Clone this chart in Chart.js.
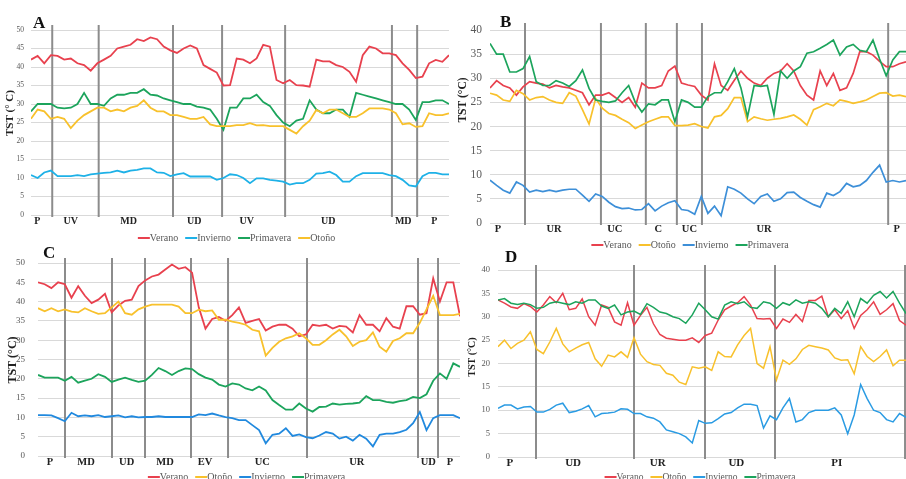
<!DOCTYPE html>
<html>
<head>
<meta charset="utf-8">
<script src="https://cdn.jsdelivr.net/npm/chart.js@4.4.1/dist/chart.umd.min.js"></script>
<style>
  html, body { margin: 0; padding: 0; background: #fff; width: 906px; height: 479px; overflow: hidden; }
  .panel { position: absolute; }
</style>
</head>
<body>
<div class="panel" style="left:0;top:0;width:455px;height:250px"><canvas id="chartA"></canvas></div>
<div class="panel" style="left:455px;top:0;width:451px;height:252px"><canvas id="chartB"></canvas></div>
<div class="panel" style="left:0;top:244px;width:465px;height:235px"><canvas id="chartC"></canvas></div>
<div class="panel" style="left:465px;top:244px;width:441px;height:235px"><canvas id="chartD"></canvas></div>
<script>
// Daily TST readings along each transect, 64 samples per series.

// ---- Panel A ----
const aVerano = [42, 43, 41, 43.2, 43, 42, 42.3, 41, 40.5, 39, 41, 42, 43, 45, 45.5, 46, 47.5, 47, 48, 47.5, 45.5, 44.5, 43.8, 45, 45.8, 45, 40.5, 39.5, 38.5, 35,
  35.1, 42.3, 42, 41, 42.3, 46, 45.5, 36.5, 35.6, 36.5, 35.1, 35, 34.7, 42, 41.5, 41.5, 40.5, 40, 38.7, 36, 43.2, 45.5, 45, 43.7, 43.7, 43.2, 41, 39.2, 37, 37.4, 41, 41.9, 41.4, 43.2];
const aInvierno = [10.8, 10, 11.5, 12, 10.5, 10.5, 10.5, 10.8, 10.5, 11, 11.2, 11.4, 11.5, 12, 11.5, 12, 12.2, 12.6, 12.6, 11.5, 11.4, 10.5, 11, 11.3, 10.4, 10.4, 10.4, 10.4, 9.5, 10,
  11, 10.8, 10, 8.6, 9.9, 9.9, 9.5, 9.3, 9, 8.2, 8.6, 8.6, 9.5, 11.2, 11.3, 11.7, 10.8, 9, 9, 10.5, 11.3, 11.3, 11.3, 11.3, 10.8, 10.5, 9.5, 8, 7.7, 10.5, 11.4, 11.4, 11, 11];
const aPrimavera = [28, 30, 30, 30, 29, 28.8, 29, 30, 33, 30, 30, 29.5, 31.5, 32.5, 32.5, 33, 33, 34, 32.5, 32.3, 31.5, 31, 30.5, 30, 30, 29.3, 29, 28.5, 26, 23,
  29, 29, 31.5, 31.5, 32.5, 30.5, 29.5, 27, 25, 24, 25.5, 26, 31, 28.5, 27.5, 27.5, 28.5, 28.5, 26.5, 33, 32.5, 32, 31.5, 31, 30.5, 30, 30, 28.5, 25.7, 30.5, 30.5, 31, 31, 30];
const aOtono = [26, 28.5, 28, 26, 26.5, 26, 23.5, 25.5, 27, 28, 29, 29, 28, 28.5, 28, 29, 29.5, 31, 29, 28, 28, 27, 27, 26.5, 26, 26, 26.5, 24.5, 24, 24,
  24, 24.3, 24.3, 24.8, 24.2, 24.3, 24, 24, 24, 23, 22, 24, 25.5, 28.4, 27.5, 28.5, 28.5, 27.5, 26.5, 26.5, 27.5, 28.8, 28.8, 28.8, 28.5, 27.5, 24.5, 24.8, 23.8, 24, 27.5, 27, 27, 27.5];
const aSeps = [3.2, 10.2, 21.4, 28.8, 38.3, 54.4, 58.2];
const aZones = ['P', 'UV', 'MD', 'UD', 'UV', 'UD', 'MD', 'P'];
const aZonePos = [0.95, 6.0, 14.7, 24.6, 32.5, 44.8, 56.1, 60.8];

// ---- Panel B ----
const bVerano = [28, 29.5, 28.5, 28, 26.5, 28.2, 29.3, 29, 28.8, 28, 28.5, 28.2, 28, 27.5, 27, 24.5, 26.5, 26.5, 27, 26, 25, 26, 24, 29, 28, 28, 28.5, 31.5, 32.5, 29,
  28.6, 28.3, 26.5, 25.5, 33, 28.5, 27.5, 29.6, 31.5, 30, 29, 28.5, 30, 31, 31.5, 33, 31.5, 28.5, 26.5, 25.5, 31.5, 28.5, 31, 27.5, 28, 31, 35.5, 35.5, 34.8, 33.5, 32.4, 32.4, 33, 33.4];
const bOtono = [26.9, 26.5, 25.5, 25.2, 27.5, 26.8, 25.5, 26, 26.2, 25.5, 25, 24.8, 27, 26.3, 23.5, 20.5, 25.8, 23.8, 22.7, 22.3, 21.5, 20.8, 19.6, 20.3, 21, 21.5, 22, 22, 20.2, 20.2,
  20.3, 20.6, 20, 19.7, 22, 22.3, 23.7, 26, 26, 21, 22, 21.6, 21.3, 21.5, 21.7, 22, 22.4, 21.5, 20.3, 23.5, 24.1, 24.8, 24.3, 25.5, 25.2, 24.8, 25.1, 25.5, 26.2, 26.9, 27, 26.3, 26.5, 26.2];
const bInvierno = [8.9, 7.8, 6.8, 6.2, 8.5, 7.8, 6.4, 6.8, 6.5, 6.8, 6.5, 6.8, 7, 7, 5.8, 4.5, 6, 5.5, 4.3, 3.4, 3, 3.1, 2.7, 2.8, 4, 2.5, 3.5, 4.2, 4.6, 2.8,
  2.6, 1.8, 5.5, 2, 3.5, 1.5, 7.5, 7, 6.2, 5, 4, 5.5, 6, 4.5, 5, 6.3, 6.4, 5.3, 4.5, 3.8, 3.3, 6.2, 5.7, 6.5, 8.2, 7.5, 7.8, 8.8, 10.5, 12, 8.5, 8.8, 8.5, 8.8];
const bPrimavera = [37.2, 35, 35, 31.3, 31.3, 32, 34.5, 29.3, 28.5, 28.5, 29.5, 29, 28.3, 29.5, 31.7, 27.9, 25.5, 25.2, 25, 25.3, 27, 28.5, 25, 23, 24.7, 24.5, 25.5, 25.5, 21, 25.5,
  25, 24, 24, 26.2, 27, 27, 29.3, 32, 28, 22, 28.5, 28.3, 28.5, 22.5, 31.5, 30, 31.5, 32.4, 35.2, 35.5, 36.2, 37, 37.9, 34.8, 36.5, 37, 35.8, 35.5, 37.9, 34, 30.5, 33.8, 35.5, 35.5];
const bSeps = [5.3, 16.8, 23.6, 28.3, 32.1, 60.3];
const bZones = ['P', 'UR', 'UC', 'C', 'UC', 'UR', 'P'];
const bZonePos = [1.2, 9.7, 18.9, 25.5, 30.2, 41.5, 61.6];

// ---- Panel C ----
const cVerano = [45, 44.5, 43.5, 45, 44.5, 41, 44, 41.5, 39.6, 40.5, 42, 37.2, 39, 40.2, 40.5, 44, 45.5, 46.5, 47, 48.3, 49.6, 48.5, 48.9, 47.5, 38.5, 33, 35.5, 36, 35,
  36.5, 38.5, 34.5, 35, 35.5, 32.5, 33.5, 34, 34, 33, 31, 31.5, 34, 33.7, 34, 33, 33.7, 33.5, 32, 36.5, 34, 34, 32.3, 35.7, 33.5, 33, 38.8, 38.8, 36.6, 37, 46, 40, 45, 45, 36.2];
const cOtono = [38.3, 37.5, 38.3, 37.5, 38, 37.4, 37.2, 38.3, 37.5, 36.8, 37, 38.5, 40, 37, 36.6, 38, 38.7, 39.2, 39.2, 39.2, 39.2, 38.7, 37, 37, 37.9, 37.5, 37.7, 35.3, 35.3,
  34.8, 34.5, 34, 32.7, 32.3, 26, 28, 29.6, 30.5, 31, 31.8, 30.5, 28.8, 28.8, 30, 31.5, 32.7, 31, 28.5, 29.6, 30, 32, 28.3, 27, 29.8, 30.5, 31.8, 31.8, 34.5, 38, 41.5, 36.5, 36.5, 36.5, 36.8];
const cInvierno = [10.6, 10.6, 10.5, 9.8, 9, 11.2, 10.3, 10.5, 10.3, 10.6, 10.1, 10.3, 10.5, 10, 10.3, 10, 10.1, 10.1, 10.3, 10.1, 10.1, 10.1, 10.1, 10.1, 10.8, 10.6, 11, 10.5, 10.1,
  9.8, 9.3, 9.3, 8, 6.7, 3.3, 5.5, 5.8, 7.2, 5.2, 5.6, 4.9, 4.6, 5.3, 6.2, 5.8, 4.5, 5, 4, 5.5, 4.5, 2.5, 5.5, 5.8, 5.8, 6.2, 6.8, 8.5, 11.4, 6.7, 9.8, 10.6, 10.6, 10.6, 9.8];
const cPrimavera = [21, 20.3, 20.3, 20.3, 19.5, 20.5, 19, 19.5, 20, 21.2, 20.5, 19.2, 19.8, 20.3, 19.7, 19.2, 19.5, 21, 22.8, 22, 21, 22, 22.7, 22.5, 21.2, 20.3, 19.8, 18.5, 18,
  18.8, 18.5, 17.5, 17, 18, 17, 14.5, 13.2, 12, 12, 13.6, 12.3, 11.5, 12.7, 12.8, 13.6, 13.3, 13.5, 13.6, 13.8, 15.5, 14.5, 14.5, 14, 13.8, 14.2, 14.5, 15.3, 15, 16, 19.5, 21.4, 20, 24, 23.1];
const cSeps = [4.03, 11.05, 15.97, 22.84, 28.37, 40.16, 56.73, 59.72];
const cZones = ['P', 'MD', 'UD', 'MD', 'EV', 'UC', 'UR', 'UD', 'P'];
const cZonePos = [1.79, 7.17, 13.24, 18.96, 24.93, 33.49, 47.58, 58.27, 61.5];

// ---- Panel D ----
const dVerano = [33.6, 32.9, 32.1, 31.8, 32.8, 32.2, 31, 32.5, 34.3, 33, 35, 31.5, 31.8, 33.8, 30, 28.2, 32.5, 32, 28.9, 28.2, 33, 28.2, 30.3, 32, 28.5, 26.2, 25.4, 25.2, 25,
  25, 25.5, 24.5, 26, 26.5, 29.3, 31.5, 32.3, 33, 34.3, 32.5, 29.6, 29.5, 29.6, 27.5, 29.5, 28.8, 30.5, 29, 33.5, 33.5, 34.4, 30, 31.5, 29.6, 31.3, 27.5, 30.3, 31.5, 33.2, 30.5, 31.5, 32.8, 29.2, 28.2];
const dOtono = [23.6, 25, 23.2, 24.3, 25, 26.8, 23, 22.1, 24.6, 27.5, 24.2, 22.5, 23.3, 24, 24.5, 21, 19.4, 21.8, 21.4, 22.5, 21.3, 25.5, 22, 20.4, 19.8, 19.6, 17.9, 17.5, 16,
  15.5, 19.3, 19, 19.3, 18.5, 22.5, 21.5, 21.4, 24, 26, 27.5, 20, 19, 23.6, 16.5, 20.7, 19.8, 21, 23, 23.9, 23.6, 23.3, 22.9, 21.2, 20.7, 20.8, 17.8, 23.6, 21.5, 20.4, 21.5, 22.9, 19.5, 20.7, 20.7];
const dInvierno = [10.4, 11.1, 11.1, 10.3, 10.7, 10.8, 9.6, 9.6, 10.2, 11.1, 11.5, 9.5, 9.8, 10.3, 11, 8.6, 9.3, 9.4, 9.6, 10.3, 10.2, 9.3, 9.3, 8.6, 8.3, 7.5, 5.8, 5.4, 5,
  4.3, 3, 7.8, 7.2, 7.3, 8.2, 9.2, 9.5, 10.5, 11.3, 11.3, 11, 6.2, 8.8, 8, 10.5, 12.5, 7.5, 8, 9.5, 10, 10, 10, 10.5, 9, 5, 9, 15.5, 12.5, 10, 9.5, 8, 7.5, 9.3, 8.5];
const dPrimavera = [33.6, 33.9, 32.9, 32.6, 32.9, 32.6, 31.8, 32, 32.9, 33.2, 32.9, 32.6, 33.2, 32.9, 33.6, 33.6, 32.3, 31.8, 32.5, 30.4, 31, 31.2, 30.5, 32.8, 32, 31, 30.7, 30, 29.6,
  28.6, 30.4, 32.9, 31.5, 30, 29.5, 32.5, 33.2, 32.8, 33.2, 32, 31.8, 33.2, 32.9, 31.8, 33, 32.5, 33.6, 32.9, 33.2, 32.9, 31.8, 30, 31.8, 30.7, 33.2, 30, 33.9, 32.9, 34.6, 35.4, 34, 35.4, 32.9, 30.7];
const dSeps = [5.87, 21.0, 31.96, 42.77, 62.85];
const dZones = ['P', 'UD', 'UR', 'UD', 'PI'];
const dZonePos = [1.85, 11.6, 24.66, 36.8, 52.3];

const SERIF = '"Liberation Serif", "DejaVu Serif", serif';
const RED = '#e8414e';
const GREEN = '#1ca45c';
const YELLOW = '#f8c12c';

// Separators, zone names, panel letter, axis title and legend, all in page coordinates.
function decoration(p) {
  return {
    id: 'deco',
    beforeDatasetsDraw(chart) {
      const { ctx, chartArea, scales } = chart;
      ctx.save();
      ctx.strokeStyle = '#8c8c8c';
      ctx.lineWidth = 2;
      for (const s of p.seps) {
        const x = scales.x.getPixelForValue(s);
        ctx.beginPath();
        ctx.moveTo(x, p.sepTop - p.box.top);
        ctx.lineTo(x, chartArea.bottom + 2);
        ctx.stroke();
      }
      ctx.restore();
    },
    afterDraw(chart) {
      const { ctx, scales } = chart;
      const ox = p.box.left;
      const oy = p.box.top;
      ctx.save();

      ctx.fillStyle = '#222';
      ctx.font = `bold ${p.zoneSize}px ${SERIF}`;
      ctx.textAlign = 'center';
      ctx.textBaseline = 'middle';
      p.zones.forEach((z, i) => {
        ctx.fillText(z, scales.x.getPixelForValue(p.zonePos[i]), p.zoneY - oy);
      });

      ctx.fillStyle = '#111';
      ctx.font = `bold ${p.letterSize}px ${SERIF}`;
      ctx.textAlign = 'left';
      ctx.textBaseline = 'alphabetic';
      ctx.fillText(p.letter, p.letterX - ox, p.letterY - oy);

      ctx.save();
      ctx.translate(p.titleX - ox, p.titleY - oy);
      ctx.rotate(-Math.PI / 2);
      ctx.font = `bold ${p.titleSize}px ${SERIF}`;
      ctx.textAlign = 'center';
      ctx.textBaseline = 'middle';
      ctx.fillStyle = '#222';
      ctx.fillText(p.title, 0, 0);
      ctx.restore();

      ctx.font = `${p.legendSize}px ${SERIF}`;
      const lineLen = 12;
      const gap = 7;
      const widths = p.series.map((s) => lineLen + ctx.measureText(s.label).width);
      const total = widths.reduce((acc, w) => acc + w, 0) + gap * (widths.length - 1);
      let x = p.legendX - ox - total / 2;
      const y = p.legendY - oy;
      ctx.textAlign = 'left';
      ctx.textBaseline = 'middle';
      p.series.forEach((s, k) => {
        ctx.strokeStyle = s.color;
        ctx.lineWidth = 2;
        ctx.beginPath();
        ctx.moveTo(x, y);
        ctx.lineTo(x + lineLen, y);
        ctx.stroke();
        ctx.fillStyle = '#595959';
        ctx.fillText(s.label, x + lineLen, y);
        x += widths[k] + gap;
      });
      ctx.restore();
    },
  };
}

function makePanel(id, p) {
  const b = p.box;
  const a = p.area;
  const datasets = p.series.map((s, k) => ({
    label: s.label,
    data: s.values.map((v, i) => ({ x: i, y: v })),
    borderColor: s.color,
    borderWidth: p.lineWidth,
    pointRadius: 0,
    tension: 0,
    fill: false,
    order: -k,
  }));

  new Chart(document.getElementById(id), {
    type: 'line',
    data: { datasets },
    options: {
      responsive: true,
      maintainAspectRatio: false,
      animation: false,
      layout: {
        autoPadding: false,
        padding: { left: 0, top: a.t - b.top, right: b.left + b.w - a.r, bottom: b.top + b.h - a.b },
      },
      plugins: { legend: { display: false }, tooltip: { enabled: false } },
      scales: {
        x: { type: 'linear', display: false, min: 0, max: p.series[0].values.length - 1 },
        y: {
          min: 0,
          max: p.yMax,
          afterFit: (scale) => { scale.width = a.l - b.left; },
          ticks: { stepSize: 5, padding: p.tickPad, color: '#595959', font: { family: SERIF, size: p.tickSize } },
          grid: { color: '#d9d9d9', drawTicks: false },
          border: { display: false },
        },
      },
    },
    plugins: [decoration(p)],
  });
}

makePanel('chartA', {
  box: { left: 0, top: 0, w: 455, h: 250 },
  area: { l: 31, t: 30, r: 449, b: 215 },
  yMax: 50, tickSize: 7.5, tickPad: 7, lineWidth: 1.8,
  series: [
    { label: 'Verano', values: aVerano, color: RED },
    { label: 'Invierno', values: aInvierno, color: '#1eb1e7' },
    { label: 'Primavera', values: aPrimavera, color: GREEN },
    { label: 'Otoño', values: aOtono, color: YELLOW },
  ],
  seps: aSeps, sepTop: 25,
  zones: aZones, zonePos: aZonePos, zoneY: 221, zoneSize: 10,
  letter: 'A', letterX: 33, letterY: 28, letterSize: 17,
  title: 'TST (° C)', titleX: 10, titleY: 113, titleSize: 11,
  legendX: 236.5, legendY: 238, legendSize: 10,
});

makePanel('chartB', {
  box: { left: 455, top: 0, w: 451, h: 252 },
  area: { l: 490, t: 30, r: 906, b: 223 },
  yMax: 40, tickSize: 11.5, tickPad: 8, lineWidth: 1.7,
  series: [
    { label: 'Verano', values: bVerano, color: RED },
    { label: 'Otoño', values: bOtono, color: YELLOW },
    { label: 'Invierno', values: bInvierno, color: '#3d8fd8' },
    { label: 'Primavera', values: bPrimavera, color: GREEN },
  ],
  seps: bSeps, sepTop: 23,
  zones: bZones, zonePos: bZonePos, zoneY: 229, zoneSize: 10.5,
  letter: 'B', letterX: 500, letterY: 27, letterSize: 17,
  title: 'TST (°C)', titleX: 463, titleY: 100, titleSize: 11.5,
  legendX: 690, legendY: 245, legendSize: 10,
});

makePanel('chartC', {
  box: { left: 0, top: 244, w: 465, h: 235 },
  area: { l: 38, t: 263, r: 460, b: 456 },
  yMax: 50, tickSize: 9, tickPad: 13, lineWidth: 1.8,
  series: [
    { label: 'Verano', values: cVerano, color: RED },
    { label: 'Otoño', values: cOtono, color: YELLOW },
    { label: 'Invierno', values: cInvierno, color: '#2189de' },
    { label: 'Primavera', values: cPrimavera, color: GREEN },
  ],
  seps: cSeps, sepTop: 258,
  zones: cZones, zonePos: cZonePos, zoneY: 462, zoneSize: 10.5,
  letter: 'C', letterX: 43, letterY: 258, letterSize: 17,
  title: 'TST (°C)', titleX: 13, titleY: 360, titleSize: 12,
  legendX: 246.5, legendY: 477, legendSize: 10,
});

makePanel('chartD', {
  box: { left: 465, top: 244, w: 441, h: 235 },
  area: { l: 498, t: 270, r: 906, b: 457 },
  yMax: 40, tickSize: 8.5, tickPad: 8, lineWidth: 1.5,
  series: [
    { label: 'Verano', values: dVerano, color: RED },
    { label: 'Otoño', values: dOtono, color: YELLOW },
    { label: 'Invierno', values: dInvierno, color: '#2a9be3' },
    { label: 'Primavera', values: dPrimavera, color: GREEN },
  ],
  seps: dSeps, sepTop: 265,
  zones: dZones, zonePos: dZonePos, zoneY: 463, zoneSize: 11,
  letter: 'D', letterX: 505, letterY: 262, letterSize: 17,
  title: 'TST (°C)', titleX: 472, titleY: 357, titleSize: 10,
  legendX: 700, legendY: 477, legendSize: 9.5,
});
</script>
</body>
</html>
